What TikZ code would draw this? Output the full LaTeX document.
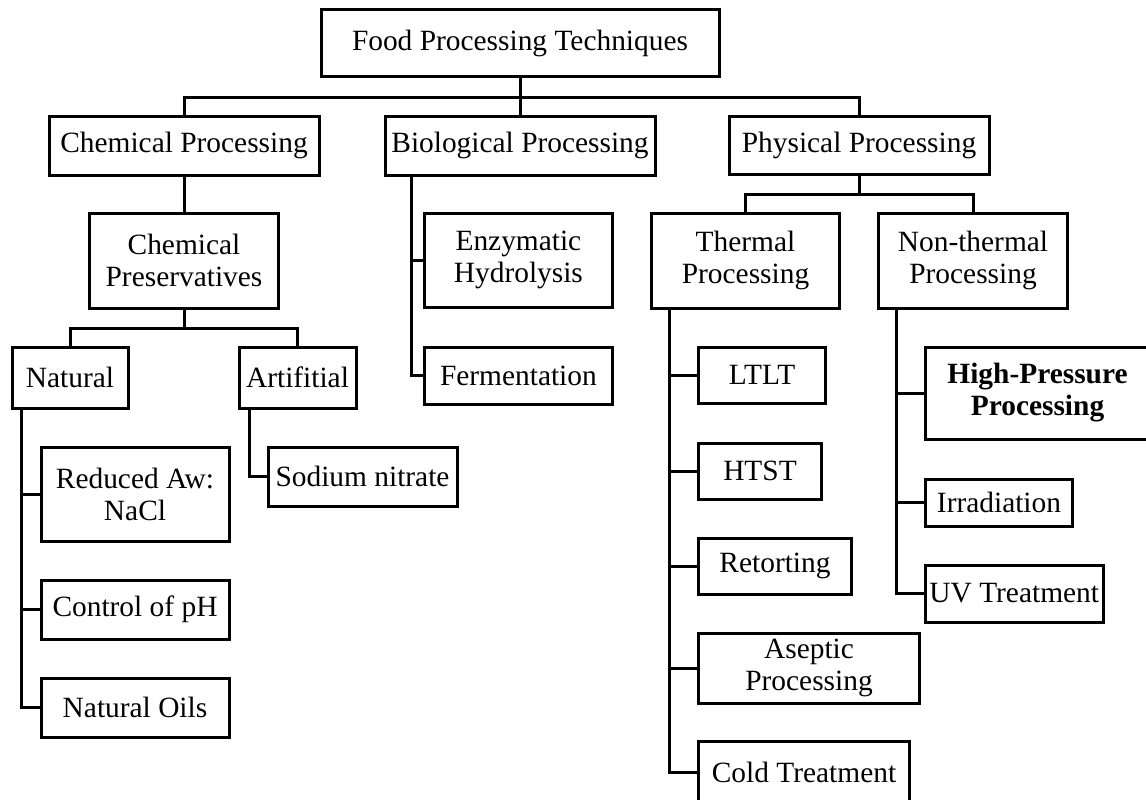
\documentclass[tikz,border=0pt]{standalone}
\usepackage{fontspec}
\setmainfont{Liberation Serif}
\begin{document}
\begin{tikzpicture}[x=1pt,y=-1pt,
  box/.style={draw, line width=3pt, inner sep=0pt, align=center, font=\fontsize{29.4}{32}\selectfont},
  conn/.style={line width=3pt}]
\clip (0,0) rectangle (1146,800);
% level 0
\node[box, minimum width=398pt, minimum height=67pt] (top) at (520,43.5) {Food Processing Techniques};
% level 1
\node[box, minimum width=270pt, minimum height=59pt] (chem) at (184,145.5) {Chemical Processing};
\node[box, minimum width=270pt, minimum height=59pt] (bio) at (520,145.5) {Biological Processing};
\node[box, minimum width=260pt, minimum height=58pt] (phys) at (859,145) {Physical Processing};
% level 2
\node[box, minimum width=189pt, minimum height=95pt] (chempres) at (184,260.5) {Chemical\\Preservatives};
\node[box, minimum width=188.7pt, minimum height=94pt] (enzym) at (518.4,260) {Enzymatic\\Hydrolysis};
\node[box, minimum width=188.7pt, minimum height=57pt] (ferm) at (518.4,375.5) {Fermentation};
\node[box, minimum width=188pt, minimum height=95pt] (thermal) at (745.5,260.5) {Thermal\\Processing};
\node[box, minimum width=189pt, minimum height=95pt] (nonthermal) at (973,260.5) {Non-thermal\\Processing};
% level 3 chemical
\node[box, minimum width=116pt, minimum height=61pt] (natural) at (70,377.5) {Natural};
\node[box, minimum width=117pt, minimum height=61pt] (artif) at (297.5,377.5) {Artifitial};
\node[box, minimum width=188pt, minimum height=94pt] (reduced) at (135,494) {Reduced Aw:\\NaCl};
\node[box, minimum width=188pt, minimum height=59pt] (controlph) at (135,609.5) {Control of pH};
\node[box, minimum width=188pt, minimum height=59pt] (naturaloils) at (135,707.5) {Natural Oils};
\node[box, minimum width=189pt, minimum height=59pt] (sodium) at (362.5,476.5) {Sodium nitrate};
% thermal children
\node[box, minimum width=127.5pt, minimum height=56pt] (ltlt) at (762,375) {LTLT};
\node[box, minimum width=123.5pt, minimum height=56pt] (htst) at (760,471) {HTST};
\node[box, minimum width=153.5pt, minimum height=56pt] (retort) at (775,566) {Retorting};
\node[box, minimum width=220.5pt, minimum height=70pt] (aseptic) at (809,668) {Aseptic\\Processing};
\node[box, minimum width=210.5pt, minimum height=60.5pt] (cold) at (804,772) {Cold Treatment};
% non-thermal children
\node[box, minimum width=225pt, minimum height=92pt, font=\fontsize{29.4}{32}\selectfont\bfseries] (hpp) at (1037.5,393) {High-Pressure\\Processing};
\node[box, minimum width=146.5pt, minimum height=47pt] (irrad) at (999,502.5) {Irradiation};
\node[box, minimum width=177.5pt, minimum height=57pt] (uv) at (1014.25,593.5) {UV Treatment};
% connectors
\coordinate (bar) at (520,97);
\draw[conn] (top.south) -- (bio.north);
\draw[conn] (chem.north) |- (bar) -| (phys.north);
\draw[conn] (chem.south) -- (chempres.north);
\coordinate (cbar) at (184,328);
\draw[conn] (chempres.south) -- (cbar);
\draw[conn] (natural.north) |- (cbar) -| (artif.north);
\coordinate (pbar) at (859,194);
\draw[conn] (phys.south) -- (pbar);
\draw[conn] (thermal.north) |- (pbar) -| (nonthermal.north);
% trunks
\draw[conn] ([xshift=11pt]natural.south west) |- (reduced.west);
\draw[conn] ([xshift=11pt]natural.south west) |- (controlph.west);
\draw[conn] ([xshift=11pt]natural.south west) |- (naturaloils.west);
\draw[conn] ([xshift=12pt]artif.south west) |- (sodium.west);
\draw[conn] ([xshift=28pt]bio.south west) |- (enzym.west);
\draw[conn] ([xshift=28pt]bio.south west) |- (ferm.west);
\draw[conn] ([xshift=19.5pt]thermal.south west) |- (ltlt.west);
\draw[conn] ([xshift=19.5pt]thermal.south west) |- (htst.west);
\draw[conn] ([xshift=19.5pt]thermal.south west) |- (retort.west);
\draw[conn] ([xshift=19.5pt]thermal.south west) |- (aseptic.west);
\draw[conn] ([xshift=19.5pt]thermal.south west) |- (cold.west);
\draw[conn] ([xshift=19.5pt]nonthermal.south west) |- (hpp.west);
\draw[conn] ([xshift=19.5pt]nonthermal.south west) |- (irrad.west);
\draw[conn] ([xshift=19.5pt]nonthermal.south west) |- (uv.west);
\end{tikzpicture}
\end{document}
